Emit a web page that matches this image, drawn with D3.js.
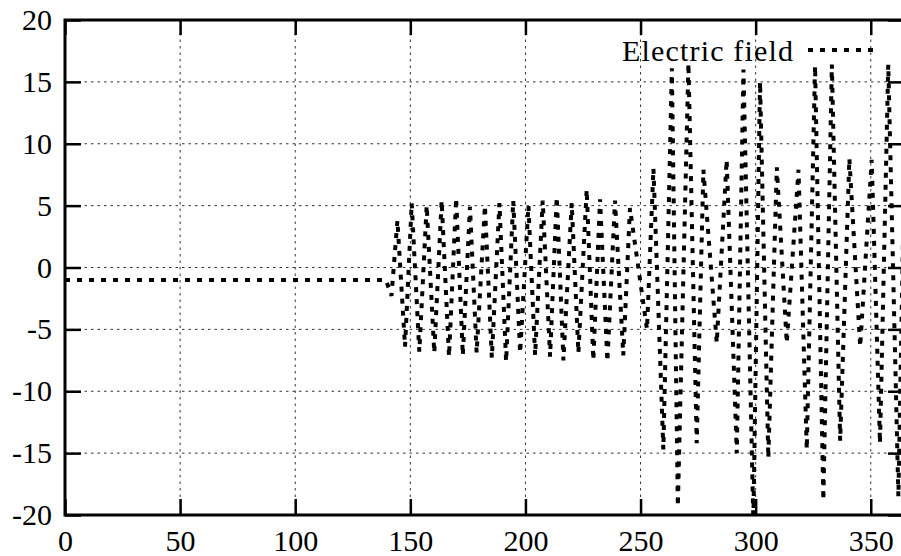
<!DOCTYPE html>
<html>
<head>
<meta charset="utf-8">
<script src="https://cdn.jsdelivr.net/npm/d3@7"></script>
<style>
  body { margin: 0; background: white; }
  svg { display: block; }
</style>
</head>
<body>
<svg id="chart" width="901" height="556"></svg>
<script>
// turning points of the trace
const time = [0, 139.4, 141.8, 144.4, 147.7, 150.6, 153.9, 157.1, 160.4, 163.6,
  166.8, 169.9, 172.8, 175.9, 178.8, 182.4, 185.4, 188.7, 191.6, 194.7,
  197.7, 201.3, 204.2, 207.5, 210.7, 213.6, 216.5, 220.1, 223.0, 226.6,
  229.5, 232.4, 235.6, 238.9, 242.5, 245.4, 252.8, 255.6, 259.9, 263.6,
  266.2, 270.8, 274.4, 277.3, 283.1, 287.4, 291.8, 294.7, 299.0, 301.9,
  305.5, 309.2, 313.5, 318.6, 322.2, 325.8, 329.4, 333.1, 336.7, 340.7,
  345.4, 350.4, 354.0, 357.6, 362.0, 365.3];
const field = [-1, -1, -2.3, 3.8, -6.4, 5.2, -6.8, 5.0, -6.9, 5.4,
  -7.2, 5.6, -7.1, 4.9, -6.9, 5.0, -7.3, 5.2, -7.6, 5.4,
  -6.9, 5.0, -7.1, 5.4, -7.2, 5.7, -7.5, 5.2, -6.9, 6.3,
  -7.5, 5.5, -7.6, 5.4, -7.1, 4.8, -5.0, 8.0, -14.7, 16.1,
  -19.3, 16.5, -14.2, 7.9, -6.1, 8.7, -15.0, 16.0, -20.5, 15.0,
  -15.4, 8.1, -6.1, 7.9, -14.7, 16.3, -18.8, 16.4, -14.0, 8.8,
  -6.4, 8.7, -14.2, 16.4, -18.5, 16.0];

const xTicks = [0, 50, 100, 150, 200, 250, 300, 350];
const yTicks = [-20, -15, -10, -5, 0, 5, 10, 15, 20];
const yTickLabels = ["-20", "-15", "-10", "-5", "0", "5", "10", "15", "20"];
const legendLabel = "Electric field";

const width = 901;
const height = 556;
const margin = { top: 20, bottom: 41, left: 65, right: -2 };
const font = "'Liberation Serif', 'Times New Roman', serif";

const svg = d3.select("#chart");
const plotLeft = margin.left;
const plotRight = width - margin.right;
const plotTop = margin.top;
const plotBottom = height - margin.bottom;

const x = d3.scaleLinear([0, 364], [plotLeft, plotRight]);
const y = d3.scaleLinear([-20, 20], [plotBottom, plotTop]);

svg.append("rect")
  .attr("width", width)
  .attr("height", height)
  .attr("fill", "white");

svg.append("defs")
  .append("clipPath")
  .attr("id", "plot-clip")
  .append("rect")
  .attr("x", plotLeft)
  .attr("y", plotTop)
  .attr("width", plotRight - plotLeft)
  .attr("height", plotBottom - plotTop);

// grid
const grid = svg.append("g")
  .attr("stroke", "#333")
  .attr("stroke-width", 1)
  .attr("stroke-dasharray", "2.5,4");

grid.selectAll("line.vx")
  .data(xTicks.filter((d) => d > 0))
  .join("line")
  .attr("class", "vx")
  .attr("x1", (d) => x(d))
  .attr("x2", (d) => x(d))
  .attr("y1", plotTop)
  .attr("y2", plotBottom);

grid.selectAll("line.hy")
  .data(yTicks.filter((d) => d > -20 && d < 20))
  .join("line")
  .attr("class", "hy")
  .attr("x1", plotLeft)
  .attr("x2", plotRight)
  .attr("y1", (d) => y(d))
  .attr("y2", (d) => y(d));

// trace
const line = d3.line()
  .x((d) => x(d[0]))
  .y((d) => y(d[1]));

svg.append("path")
  .datum(time.map((t, i) => [t, field[i]]))
  .attr("clip-path", "url(#plot-clip)")
  .attr("d", line)
  .attr("fill", "none")
  .attr("stroke", "black")
  .attr("stroke-width", 4)
  .attr("stroke-dasharray", "5,7");

// axes
const styleAxis = (g) => {
  g.select(".domain").remove();
  g.selectAll(".tick line").attr("stroke", "black").attr("stroke-width", 2.5);
  g.selectAll(".tick text")
    .attr("fill", "black")
    .attr("font-family", font)
    .attr("font-size", 30);
};

svg.append("g")
  .attr("transform", `translate(0, ${plotBottom})`)
  .call(d3.axisBottom(x).tickValues(xTicks).tickSize(-16).tickPadding(15)
    .tickFormat((d) => String(d)))
  .call(styleAxis);

svg.append("g")
  .attr("transform", `translate(${plotLeft}, 0)`)
  .call(d3.axisLeft(y).tickValues(yTicks).tickSize(-16).tickPadding(13)
    .tickFormat((d, i) => yTickLabels[i]))
  .call(styleAxis);

svg.append("g")
  .attr("transform", `translate(0, ${plotTop})`)
  .call(d3.axisTop(x).tickValues(xTicks).tickSize(-15).tickFormat(""))
  .call(styleAxis);

svg.append("g")
  .attr("transform", `translate(${plotRight}, 0)`)
  .call(d3.axisRight(y).tickValues(yTicks).tickSize(-15).tickFormat(""))
  .call(styleAxis);

// border
svg.append("rect")
  .attr("x", plotLeft)
  .attr("y", plotTop)
  .attr("width", plotRight - plotLeft)
  .attr("height", plotBottom - plotTop)
  .attr("fill", "none")
  .attr("stroke", "black")
  .attr("stroke-width", 3);

// legend
svg.append("text")
  .attr("x", 793)
  .attr("y", 61)
  .attr("text-anchor", "end")
  .attr("font-family", font)
  .attr("font-size", 30)
  .attr("textLength", 171)
  .attr("lengthAdjust", "spacing")
  .text(legendLabel);

svg.append("line")
  .attr("x1", 808)
  .attr("x2", 878)
  .attr("y1", 50)
  .attr("y2", 50)
  .attr("stroke", "black")
  .attr("stroke-width", 4)
  .attr("stroke-dasharray", "5,7");
</script>
</body>
</html>
